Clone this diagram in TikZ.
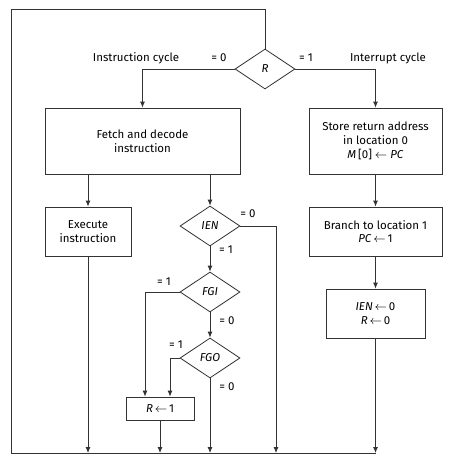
\documentclass[tikz,border=0pt]{standalone}
\usepackage{fontspec}
\setmainfont{Fira Sans}
\usetikzlibrary{arrows.meta,shapes.geometric,calc}
\definecolor{Ink}{HTML}{333333}

\begin{document}
\begin{tikzpicture}[x=0.75pt,y=-0.75pt,
    font=\fontsize{8.6}{10.3}\selectfont,
    line width=0.6pt,
    box/.style={draw=Ink,rectangle,align=center,inner sep=1pt},
    test/.style={draw=Ink,diamond,inner sep=0pt,minimum width=45pt,minimum height=30pt},
    flow/.style={draw=Ink,-{Latex[length=4.5pt,width=3.75pt]}},
    lbl/.style={inner sep=0pt}]
  \useasboundingbox (0,0) rectangle (454,460);
  % decisions
  \node[test] (R) at (265,69) {\textit{R}};
  \node[test] (ien) at (210,226) {\textit{IEN}};
  \node[test] (fgi) at (210,292) {\textit{FGI}};
  \node[test] (fgo) at (210,358) {\textit{FGO}};
  % instruction cycle
  \node[box,minimum width=146.25pt,minimum height=49.5pt] (fetch) at (142.5,141) {Fetch and decode\\instruction};
  \node[box,minimum width=64.5pt,minimum height=36.75pt] (exec) at (88,231.5) {Execute\\instruction};
  \node[box,minimum width=51pt,minimum height=17.25pt] (rset) at (160,408.5) {\textit{R}\,$\leftarrow$\,1};
  % interrupt cycle
  \node[box,minimum width=99.75pt,minimum height=49.5pt] (store) at (375.5,141) {Store return address\\in location 0\\\textit{M}\,[0] $\leftarrow$ \textit{PC}};
  \node[box,minimum width=99.75pt,minimum height=36.75pt] (branch) at (375.5,231.5) {Branch to location 1\\\textit{PC}\,$\leftarrow$\,1};
  \node[box,minimum width=74.25pt,minimum height=36.75pt] (clr) at (375.5,313.5) {\textit{IEN}\,$\leftarrow$\,0\\\textit{R}\,$\leftarrow$\,0};
  % labels
  \node[lbl] (lblic) at (136,58) {Instruction cycle};
  \node[lbl] (lblin) at (388,58) {Interrupt cycle};
  \node[lbl] (rz) at (219,58) {= 0};
  \node[lbl] (ro) at (306,58) {= 1};
  \node[lbl] (ienz) at (248,214) {= 0};
  \node[lbl] (ieno) at (226,250) {= 1};
  \node[lbl] (fgio) at (164,282) {= 1};
  \node[lbl] (fgiz) at (227,321) {= 0};
  \node[lbl] (fgoo) at (176,345) {= 1};
  \node[lbl] (fgoz) at (227,387) {= 0};
  % loop back
  \coordinate (loopTL) at (11,9);
  \coordinate (loopBL) at (11,453);
  \coordinate (ienOut) at (276,453);
  \draw[draw=Ink] (R.north) |- (loopTL) -- (loopBL) -- (loopBL -| clr.south);
  % connectors
  \draw[flow] (R.west) -| (fetch.north);
  \draw[flow] (R.east) -| (store.north);
  \draw[flow] (exec.north |- fetch.south) -- (exec.north);
  \draw[flow] (ien.north |- fetch.south) -- (ien.north);
  \draw[flow] (ien.east) -| (ienOut);
  \draw[flow] (ien.south) -- (fgi.north);
  \draw[flow] (fgi.south) -- (fgo.north);
  \draw[flow] (fgi.west) -| ($(rset.north)+(-15,0)$);
  \draw[flow] (fgo.west) -| ($(rset.north)+(10,0)$);
  \draw[flow] (store.south) -- (branch.north);
  \draw[flow] (branch.south) -- (clr.north);
  \foreach \n in {exec,rset,fgo,clr}
    \draw[flow] (\n.south) -- (\n.south |- loopBL);
\end{tikzpicture}
\end{document}
